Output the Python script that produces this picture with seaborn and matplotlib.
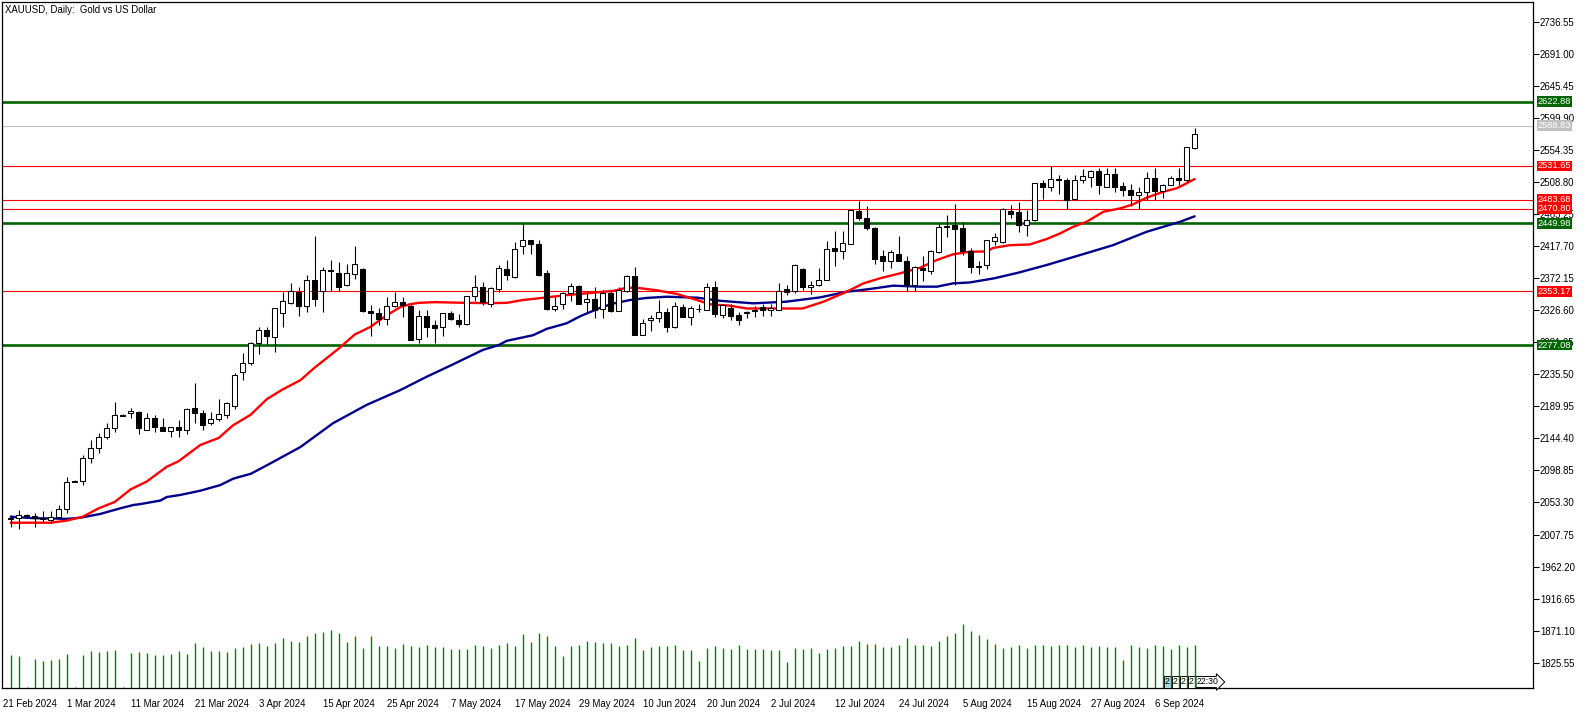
import numpy as np
import pandas as pd
import matplotlib
matplotlib.use("Agg")
import matplotlib.pyplot as plt
import seaborn as sns

sns.set_style("white")
plt.rcParams["font.family"] = ["Liberation Sans", "DejaVu Sans"]

# ---------------- data (daily XAUUSD candles) ----------------
opens = [2030, 2031, 2036, 2034, 2031, 2028, 2033, 2044, 2084, 2084,
         2116, 2130, 2147, 2159, 2178, 2180, 2182, 2156, 2174, 2161,
         2155, 2161, 2157, 2187, 2181, 2166, 2172, 2178, 2191, 2239,
         2252, 2280, 2299, 2289, 2322, 2337, 2353, 2333, 2370, 2354,
         2383, 2380, 2362, 2378, 2385, 2325, 2322, 2314, 2332, 2338,
         2333, 2285, 2319, 2305, 2302, 2323, 2313, 2307, 2347, 2359,
         2335, 2356, 2385, 2374, 2418, 2426, 2420, 2379, 2328, 2336,
         2351, 2361, 2338, 2343, 2328, 2351, 2326, 2354, 2375, 2292,
         2312, 2316, 2324, 2302, 2331, 2317, 2328, 2327, 2359, 2320,
         2329, 2320, 2322, 2325, 2331, 2327, 2327, 2356, 2354, 2385,
         2359, 2363, 2369, 2415, 2411, 2421, 2468, 2457, 2444, 2403,
         2396, 2407, 2397, 2362, 2387, 2382, 2409, 2445, 2447, 2444,
         2410, 2390, 2391, 2425, 2423, 2468, 2466, 2448, 2455, 2507,
         2502, 2513, 2512, 2484, 2511, 2516, 2524, 2502, 2520, 2503,
         2498, 2491, 2494, 2515, 2496, 2505, 2515, 2511, 2557]
highs = [2035, 2043, 2037, 2038, 2041, 2041, 2050, 2090, 2085, 2121,
         2142, 2152, 2166, 2196, 2179, 2188, 2183, 2180, 2178, 2173,
         2160, 2170, 2188, 2223, 2185, 2182, 2200, 2196, 2237, 2266,
         2282, 2302, 2302, 2330, 2353, 2365, 2360, 2377, 2432, 2388,
         2398, 2395, 2392, 2418, 2387, 2334, 2330, 2346, 2352, 2346,
         2336, 2327, 2327, 2313, 2323, 2325, 2321, 2347, 2377, 2367,
         2360, 2391, 2398, 2423, 2449, 2427, 2426, 2384, 2346, 2353,
         2365, 2362, 2351, 2360, 2355, 2355, 2360, 2377, 2388, 2314,
         2320, 2341, 2329, 2338, 2336, 2332, 2336, 2365, 2368, 2336,
         2336, 2324, 2326, 2332, 2336, 2336, 2365, 2363, 2392, 2386,
         2368, 2387, 2425, 2439, 2439, 2470, 2482, 2474, 2445, 2412,
         2412, 2432, 2403, 2389, 2404, 2412, 2449, 2462, 2478, 2452,
         2415, 2397, 2427, 2436, 2472, 2476, 2480, 2469, 2508, 2512,
         2531, 2519, 2515, 2519, 2527, 2526, 2528, 2528, 2528, 2509,
         2506, 2501, 2523, 2529, 2506, 2518, 2528, 2559, 2585]
lows = [2019, 2016, 2035, 2019, 2026, 2024, 2030, 2039, 2082, 2078,
        2110, 2123, 2144, 2154, 2176, 2174, 2150, 2156, 2153, 2155,
        2146, 2147, 2150, 2166, 2157, 2163, 2169, 2174, 2186, 2227,
        2248, 2265, 2279, 2267, 2302, 2336, 2319, 2324, 2333, 2324,
        2354, 2354, 2361, 2371, 2324, 2290, 2306, 2305, 2331, 2317,
        2284, 2280, 2289, 2280, 2290, 2313, 2303, 2305, 2340, 2334,
        2331, 2352, 2370, 2373, 2407, 2406, 2375, 2327, 2325, 2328,
        2340, 2335, 2324, 2315, 2315, 2324, 2325, 2353, 2291, 2291,
        2297, 2310, 2295, 2301, 2317, 2305, 2324, 2327, 2317, 2315,
        2312, 2305, 2315, 2317, 2319, 2318, 2327, 2348, 2351, 2355,
        2349, 2361, 2369, 2390, 2399, 2420, 2455, 2440, 2392, 2382,
        2387, 2396, 2354, 2354, 2368, 2378, 2408, 2430, 2363, 2405,
        2380, 2378, 2385, 2419, 2422, 2458, 2437, 2432, 2453, 2485,
        2496, 2492, 2470, 2483, 2507, 2502, 2492, 2501, 2494, 2489,
        2474, 2470, 2483, 2483, 2486, 2504, 2504, 2509, 2555]
closes = [2031, 2036, 2034.5, 2031, 2030, 2033, 2044, 2083, 2082.5, 2116,
          2130, 2147, 2159, 2177, 2176.5, 2183, 2159, 2174, 2161, 2155,
          2160, 2156, 2186, 2181, 2164, 2172, 2179, 2194, 2234, 2252,
          2280, 2299, 2290, 2329, 2340, 2354, 2333, 2370, 2343, 2384,
          2382, 2359, 2379, 2392, 2325, 2322, 2314, 2333, 2338, 2334,
          2284, 2319, 2303, 2301, 2322, 2314, 2307, 2347, 2359, 2338,
          2358, 2386, 2376, 2413, 2426, 2420, 2377, 2328, 2333, 2351,
          2361, 2336, 2342, 2327, 2351, 2326, 2355, 2375, 2292, 2309,
          2316, 2324, 2303, 2333, 2317, 2329, 2328, 2359, 2321, 2334,
          2319, 2313, 2324, 2327, 2327, 2330, 2354, 2353, 2391, 2359,
          2363, 2370, 2414, 2410, 2422, 2469, 2458, 2444, 2399, 2396,
          2409, 2397, 2362, 2388, 2383, 2411, 2445, 2446, 2442, 2410,
          2388, 2388, 2426, 2430, 2471, 2463, 2448, 2455, 2507, 2502,
          2513, 2512, 2483, 2512, 2517, 2524, 2504, 2520, 2502, 2498,
          2490, 2494, 2515, 2496, 2505, 2515, 2511, 2558, 2577]
volume = [33, 32, 1.5, 29, 27.5, 28, 29, 34, 1.5, 33,
          37, 36, 37, 38.5, 1.5, 35, 36, 35, 33, 33,
          34, 37, 34, 45, 41, 37, 37, 36, 40, 41,
          44, 45, 42, 45, 50, 47, 46, 52, 55, 56,
          58, 55, 46, 52, 40, 52, 42, 42, 40, 44,
          42, 41, 43.5, 41, 41, 39, 39, 39, 43.5, 42,
          40, 43.5, 45, 42, 54, 46, 55, 52, 42, 32,
          42, 43.5, 47, 46, 45, 45, 42, 43, 50, 38.5,
          41, 42, 42, 43, 38.5, 38.5, 26.7, 40, 42, 40,
          39, 43, 39, 39, 39, 37.6, 37.6, 26, 40, 39,
          40, 35.5, 39, 40, 42, 42, 47, 44, 44, 41,
          41, 43.5, 50, 43, 43, 42, 47, 52, 55, 64,
          57, 53, 49, 44, 40, 41, 43.5, 40, 43, 43,
          42, 43, 43, 41, 43, 41, 42, 41, 41, 28.4,
          43.5, 41, 40, 43, 42, 39, 43, 41, 43.5]

# moving averages (vertices: bar index, price)
ma_fast_bar = [0, 5, 7, 9, 11, 13, 15, 17, 19.5, 21, 23.7, 26, 27.8, 30, 32, 34,
               36.2, 38, 40, 41, 43, 45, 46.2, 47.4, 48.7, 49.9, 51, 53, 57, 60,
               62, 64, 66, 69.5, 72.4, 75.3, 77, 78.2, 80.7, 83.3, 85.8, 87.4,
               89.9, 92, 99, 101.6, 104.5, 106.6, 108.7, 111.2, 113.7, 115.8,
               117.8, 119.9, 122, 122.8, 124.9, 127.4, 129.5, 131.2, 132.8,
               134.5, 136.6, 138.7, 140.3, 142, 144.1, 145.8, 147, 148]
ma_fast_val = [2024.5, 2024.5, 2027.5, 2033, 2045, 2054, 2072, 2083, 2104, 2112,
               2135, 2145, 2163, 2178, 2200, 2214, 2227, 2245, 2263, 2272,
               2292, 2303, 2313, 2322, 2331, 2335, 2337, 2338, 2337, 2336.6,
               2337, 2341, 2343.5, 2348, 2351, 2354, 2358.5, 2358.5, 2355,
               2349.6, 2341, 2335, 2333, 2329, 2329, 2338.6, 2352.8, 2364.7,
               2372, 2379, 2387, 2398, 2406, 2409.7, 2410, 2415, 2419, 2420,
               2427.7, 2435.8, 2445, 2452.3, 2466.5, 2471.3, 2477, 2486.5,
               2495, 2500, 2507, 2513]
ma_slow_bar = [0, 2.8, 7, 8.7, 11.2, 13.7, 15.3, 16.2, 18.7, 19.5, 21.2, 23.7,
               26.2, 27.8, 28.7, 30, 32, 36.2, 40.3, 44.5, 48.7, 52, 55, 59, 61,
               62, 65.3, 67, 69.5, 71.2, 73.7, 75.3, 77.4, 79.5, 82, 85.8, 88.6,
               92.8, 96.9, 101.2, 104.5, 107.4, 110.3, 113.7, 115.8, 117.8,
               119.9, 123, 126, 129.5, 133.7, 137.8, 142, 146.2, 148]
ma_slow_val = [2033, 2031, 2030, 2031.6, 2037, 2045, 2049.6, 2051, 2056, 2061,
               2064, 2070, 2078, 2087, 2090, 2094, 2106, 2132, 2166, 2192, 2213,
               2232, 2248, 2270, 2277, 2283, 2291, 2300, 2308, 2318, 2330, 2336,
               2341, 2344, 2345.7, 2344.4, 2340, 2336.3, 2338.6, 2344.8, 2352.8,
               2356.7, 2361.4, 2360, 2360, 2364.7, 2366, 2372, 2380, 2390.8,
               2405, 2419, 2438, 2452.3, 2460]

# horizontal levels
green_levels = [2622.88, 2449.98, 2277.08]
red_levels = [2531.65, 2483.68, 2470.80, 2353.17]
bid_level = 2588.83

date_labels = ["21 Feb 2024", "1 Mar 2024", "11 Mar 2024", "21 Mar 2024", "3 Apr 2024",
               "15 Apr 2024", "25 Apr 2024", "7 May 2024", "17 May 2024", "29 May 2024",
               "10 Jun 2024", "20 Jun 2024", "2 Jul 2024", "12 Jul 2024", "24 Jul 2024",
               "5 Aug 2024", "15 Aug 2024", "27 Aug 2024", "6 Sep 2024"]
date_label_bars = [-1, 7, 15, 23, 31, 39, 47, 55, 63, 71, 79, 87, 95, 103, 111, 119, 127, 135, 143]

price_ticks = [1825.55 + 45.55 * k for k in range(21)]

# ---------------- figure ----------------
W, H = 1586, 715
fig = plt.figure(figsize=(W / 100, H / 100), dpi=100)
ax = fig.add_axes([2 / W, 27 / H, 1531 / W, 686 / H])
ax.set_facecolor("white")

x = np.arange(len(opens))
o = np.array(opens, float); h = np.array(highs, float)
l = np.array(lows, float); c = np.array(closes, float)
up = c >= o
bottoms = np.minimum(o, c)
heights = np.maximum(np.abs(c - o), 0.8)

# levels
for v in green_levels:
    ax.axhline(v, color="#006400", lw=1.9, zorder=1)
for v in red_levels:
    ax.axhline(v, color="#FF0000", lw=0.8, zorder=1)
ax.axhline(bid_level, color="#C0C0C0", lw=0.8, zorder=1)

# moving averages via seaborn
df_fast = pd.DataFrame({"bar": ma_fast_bar, "ma": ma_fast_val})
df_slow = pd.DataFrame({"bar": ma_slow_bar, "ma": ma_slow_val})
sns.lineplot(data=df_slow, x="bar", y="ma", ax=ax, color="#00008B", lw=1.7,
             estimator=None, sort=False, zorder=2)
sns.lineplot(data=df_fast, x="bar", y="ma", ax=ax, color="#FF0000", lw=1.7,
             estimator=None, sort=False, zorder=2)

# candles
ax.vlines(x, l, h, color="black", lw=0.8, zorder=3)
ax.bar(x[up], heights[up], bottom=bottoms[up], width=0.6, color="white",
       edgecolor="black", linewidth=0.75, zorder=4)
ax.bar(x[~up], heights[~up], bottom=bottoms[~up], width=0.6, color="black",
       edgecolor="black", linewidth=0.75, zorder=4)

ax.set_xlim(-1.09, 190.3)
ax.set_ylim(1789.6, 2764.6)
ax.set_xlabel(""); ax.set_ylabel("")

# volume on a twin axis at the bottom
ax2 = ax.twinx()
ax2.vlines(x, 0, volume, color="#008000", lw=1.0)
ax2.set_ylim(0, 686)
ax2.set_xlim(-1.09, 190.3)
ax2.set_axis_off()

# axes styling
for sp in ax.spines.values():
    sp.set_visible(True)
    sp.set_color("black")
    sp.set_linewidth(0.9)

ax.yaxis.tick_right()
ax.set_yticks(price_ticks)
ax.set_yticklabels([f"{t:.2f}" for t in price_ticks])
ax.tick_params(axis="y", which="both", direction="out", length=4, width=0.8,
               pad=1, labelsize=6.9, right=True, left=False, labelright=True,
               labelleft=False, colors="black")
ax.set_xticks(date_label_bars)
ax.set_xticklabels(date_labels)
ax.tick_params(axis="x", direction="out", length=3, width=0.8, pad=5,
               labelsize=6.9, colors="black")
for t in ax.get_xticklabels():
    t.set_ha("left")

# level labels on price axis
def level_box(val, fc):
    ax.annotate(f"{val:.2f}", xy=(1, val), xycoords=("axes fraction", "data"),
                xytext=(5, 0), textcoords="offset pixels", ha="left", va="center",
                color="white", fontsize=6.7, annotation_clip=False, zorder=10,
                bbox=dict(boxstyle="square,pad=0.08", fc=fc, ec="none"))

for v in green_levels:
    level_box(v, "#006400")
for v in red_levels:
    level_box(v, "#FF0000")
level_box(bid_level, "#C0C0C0")

# title
ax.text(3 / 1531, 1 - 3 / 686, "XAUUSD, Daily:  Gold vs US Dollar", transform=ax.transAxes,
        ha="left", va="top", fontsize=6.9, color="black")

# small time markers near the bottom
marks = [("2", 1167.5, "#ADD8E6"), ("2", 1175.5, "white"), ("2", 1183.5, "white"),
         ("2", 1191.5, "white")]
for s, px, fc in marks:
    ax.annotate(s, xy=(px, H - 682), xycoords="figure pixels", ha="center",
                va="center", fontsize=6.3, color="black", annotation_clip=False,
                bbox=dict(boxstyle="square,pad=0.12", fc=fc, ec="black", lw=0.7))
ax.annotate("22:30", xy=(1197, H - 682), xycoords="figure pixels", ha="left",
            va="center", fontsize=6.3, color="black", annotation_clip=False,
            bbox=dict(boxstyle="rarrow,pad=0.12", fc="white", ec="black", lw=0.7))

fig.savefig("out.png", dpi=100)
